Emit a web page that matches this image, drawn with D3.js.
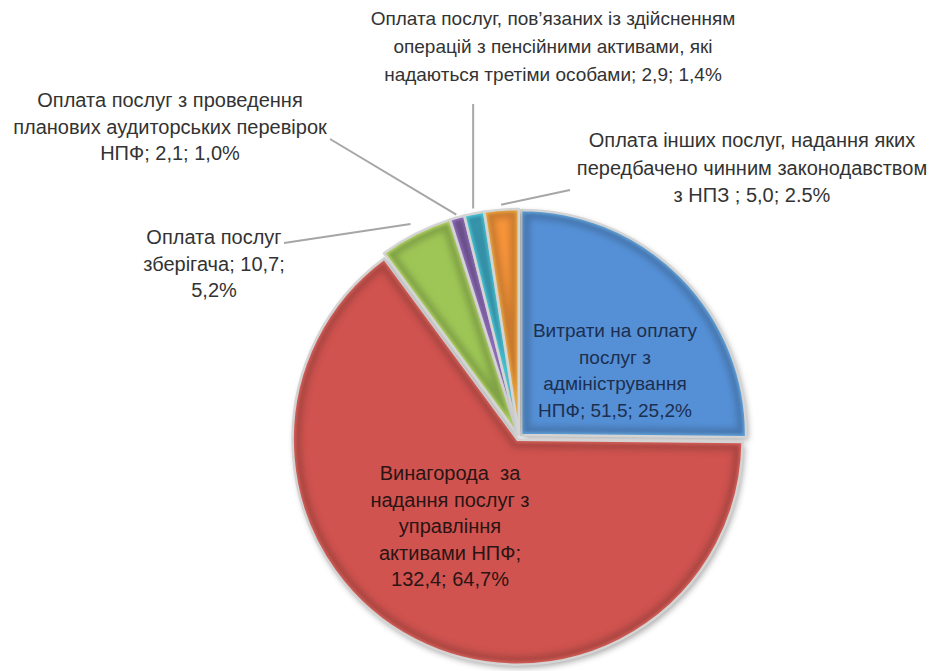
<!DOCTYPE html>
<html><head><meta charset="utf-8">
<script src="https://cdn.jsdelivr.net/npm/d3@7"></script>
<style>body{margin:0;background:#fff}svg{display:block}text{white-space:pre}</style>
</head><body>
<svg id="c" width="929" height="671"></svg>
<script>
const categories = [
  "Витрати на оплату послуг з адміністрування НПФ",
  "Винагорода за надання послуг з управління активами НПФ",
  "Оплата послуг зберігача",
  "Оплата послуг з проведення планових аудиторських перевірок НПФ",
  "Оплата послуг, пов’язаних із здійсненням операцій з пенсійними активами, які надаються третіми особами",
  "Оплата інших послуг, надання яких передбачено чинним законодавством з НПЗ"
];
const values = [51.5, 132.4, 10.7, 2.1, 2.9, 5.0];
const percents = ["25,2%", "64,7%", "5,2%", "1,0%", "1,4%", "2.5%"];
const labelLines = [
  ["Витрати на оплату", "послуг з", "адміністрування", "НПФ; 51,5; 25,2%"],
  ["Винагорода  за", "надання послуг з", "управління", "активами НПФ;", "132,4; 64,7%"],
  ["Оплата послуг", "зберігача; 10,7;", "5,2%"],
  ["Оплата послуг з проведення", "планових аудиторських перевірок", "НПФ; 2,1; 1,0%"],
  ["Оплата послуг, пов’язаних із здійсненням", "операцій з пенсійними активами, які", "надаються третіми особами; 2,9; 1,4%"],
  ["Оплата інших послуг, надання яких", "передбачено чинним законодавством", "з НПЗ ; 5,0; 2.5%"]
];
const colors = ["#5590d6", "#d0534f", "#9dc656", "#8062a8", "#3fb0cc", "#f7953a"];

const svg = d3.select("#c");
const cx = 519, cy = 437, R = 225;
const defs = svg.append("defs");
const ds = defs.append("filter").attr("id","shadow").attr("x","-20%").attr("y","-20%").attr("width","140%").attr("height","140%");
ds.append("feDropShadow").attr("dx",2).attr("dy",3).attr("stdDeviation",3).attr("flood-color","#000").attr("flood-opacity",0.35);
const bl = defs.append("filter").attr("id","blur");
bl.append("feGaussianBlur").attr("stdDeviation",3);
const bl2 = defs.append("filter").attr("id","blur2");
bl2.append("feGaussianBlur").attr("stdDeviation",1.5);

const pie = d3.pie().sort(null).value(d => d);
const arcs = pie(values);
const arc = d3.arc().innerRadius(0).outerRadius(R);
const explode = 3;

const g = svg.append("g").attr("transform", `translate(${cx},${cy})`);
const sl = g.selectAll("g.s").data(arcs).enter().append("g").attr("class","s")
  .attr("transform", d => { const a=(d.startAngle+d.endAngle)/2; return `translate(${explode*Math.sin(a)},${-explode*Math.cos(a)})`; });
sl.each(function(d,i){
  const s = d3.select(this);
  const p = arc(d);
  defs.append("clipPath").attr("id","cl"+i).append("path").attr("d",p);
  s.append("path").attr("d",p).attr("fill",colors[i]).attr("filter","url(#shadow)");
  const inner = s.append("g").attr("clip-path",`url(#cl${i})`);
  inner.append("path").attr("d",p).attr("fill","none")
    .attr("stroke", d3.color(colors[i]).darker(1)).attr("stroke-width",18)
    .attr("stroke-opacity",0.6).attr("filter","url(#blur)");
  inner.append("path").attr("d",p).attr("fill","none")
    .attr("stroke", d3.color(colors[i]).brighter(1)).attr("stroke-width",6)
    .attr("stroke-opacity",0.5).attr("filter","url(#blur2)");
  s.append("path").attr("d",p).attr("fill","none").attr("stroke","#d4d4d4").attr("stroke-width",2.5).attr("stroke-linejoin","round");
});

// leader lines (in svg coords)
const lead = [
  null, null,
  {from:[284,243], slice:2, r:R+14},
  {from:[330,139], slice:3, r:R+6},
  {from:[471,104], slice:4, r:R+8, vertical:true},
  {from:[570,190], slice:5, r:R+8}
];
lead.forEach((L,i) => {
  if(!L) return;
  const d = arcs[L.slice];
  const a = (d.startAngle+d.endAngle)/2;
  let x2 = cx + L.r*Math.sin(a), y2 = cy - L.r*Math.cos(a);
  let x1 = L.from[0], y1 = L.from[1];
  if (L.vertical) x1 = x2;
  svg.append("line").attr("x1",x1).attr("y1",y1).attr("x2",x2).attr("y2",y2)
    .attr("stroke","#a6a6a6").attr("stroke-width",2);
});

// labels
const font = "'Liberation Sans',Arial,sans-serif";
const labelPos = [
  {x:615, y:337, size:19, dy:26.5, color:"#1c2f4f"},
  {x:450, y:480, size:20, dy:26.5, color:"#2b1414"},
  {x:214, y:244, size:20, dy:26.5, color:"#333"},
  {x:170, y:107, size:20, dy:26.5, color:"#333"},
  {x:553, y:25, size:19, dy:28, color:"#333"},
  {x:752, y:147, size:20, dy:27.5, color:"#333"}
];
labelLines.forEach((lines,i) => {
  const P = labelPos[i];
  const t = svg.append("text").attr("font-family",font).attr("font-size",P.size)
    .attr("fill",P.color).attr("text-anchor","middle");
  lines.forEach((ln,j) => t.append("tspan").attr("x",P.x).attr("y",P.y + j*P.dy).text(ln));
});
</script>
</body></html>
